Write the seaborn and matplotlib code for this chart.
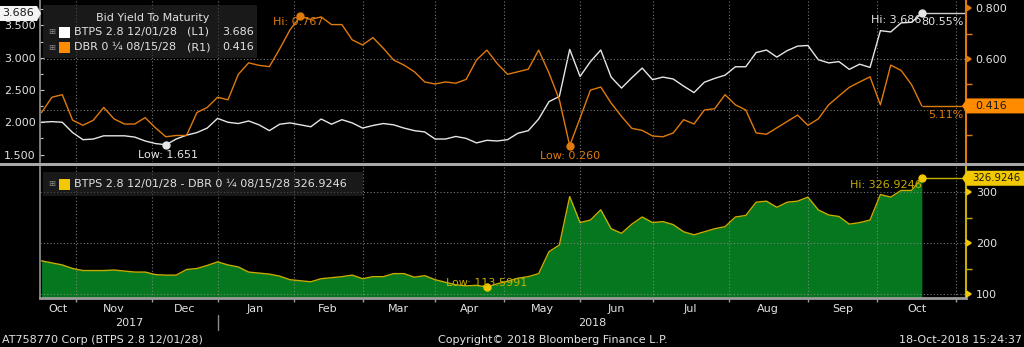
import numpy as np
import pandas as pd
import matplotlib
matplotlib.use("Agg")
import matplotlib.pyplot as plt
import matplotlib.transforms as mtrans
from matplotlib.patches import Rectangle, Polygon
import seaborn as sns

# ---------------------------------------------------------------- data
START, END = "2017-10-18", "2018-10-18"
HOLIDAYS = ["2017-12-25", "2017-12-26", "2018-01-01",
            "2018-03-30", "2018-04-02", "2018-05-01"]
STEP = 3  # one observation every third trading session

BTPS_NAME = "BTPS 2.8 12/01/28"
DBR_NAME = "DBR 0 \u00bc 08/15/28"
PANEL_TITLE = "Bid Yield To Maturity"

btps_yield = [
    2.00, 2.01, 2.00, 1.84, 1.73, 1.74, 1.79, 1.79, 1.79, 1.77,
    1.71, 1.67, 1.651, 1.74, 1.80, 1.84, 1.91, 2.06, 2.00, 1.98,
    2.02, 1.96, 1.87, 1.97, 1.99, 1.96, 1.93, 2.05, 1.97, 2.04,
    1.99, 1.91, 1.95, 1.98, 1.96, 1.91, 1.87, 1.85, 1.74, 1.74,
    1.78, 1.75, 1.68, 1.72, 1.71, 1.73, 1.83, 1.87, 2.05, 2.32,
    2.40, 3.13, 2.71, 2.94, 3.12, 2.70, 2.53, 2.69, 2.84, 2.66,
    2.70, 2.67, 2.56, 2.46, 2.62, 2.68, 2.73, 2.86, 2.86, 3.08,
    3.12, 3.01, 3.11, 3.18, 3.19, 2.97, 2.92, 2.94, 2.82, 2.90,
    2.85, 3.42, 3.40, 3.54, 3.55, 3.686,
]
dbr_yield = [
    0.39, 0.45, 0.46, 0.36, 0.34, 0.36, 0.41, 0.365, 0.345, 0.345,
    0.37, 0.33, 0.295, 0.30, 0.30, 0.39, 0.41, 0.45, 0.44, 0.54,
    0.585, 0.575, 0.57, 0.64, 0.715, 0.767, 0.755, 0.765, 0.735, 0.735,
    0.675, 0.655, 0.684, 0.642, 0.596, 0.576, 0.55, 0.51, 0.502, 0.51,
    0.505, 0.52, 0.596, 0.635, 0.582, 0.54, 0.55, 0.56, 0.635, 0.545,
    0.44, 0.260, 0.368, 0.478, 0.49, 0.427, 0.375, 0.328, 0.32, 0.298,
    0.295, 0.31, 0.362, 0.345, 0.40, 0.405, 0.46, 0.42, 0.40, 0.31,
    0.305, 0.33, 0.355, 0.38, 0.34, 0.365, 0.42, 0.455, 0.489, 0.51,
    0.53, 0.42, 0.576, 0.555, 0.50, 0.416,
]
spread_bp = [
    165, 161, 157, 150, 146, 146, 146, 147, 145, 143,
    143, 138, 137, 137, 148, 150, 156, 163, 157, 153,
    143, 141, 139, 135, 128, 126, 124, 130, 132, 134,
    137, 130, 134, 134, 140, 140, 133, 136, 128, 123,
    118, 116, 117, 113.5991, 120, 125, 131, 134, 140, 183,
    196, 291, 240, 245, 265, 228, 219, 237, 251, 240,
    242, 236, 222, 216, 222, 228, 232, 251, 254, 280,
    282, 270, 280, 282, 290, 265, 255, 252, 237, 240,
    245, 295, 290, 303, 303, 326.9246,
]

left_ticks = [1.5, 2.0, 2.5, 3.0, 3.5]
right_ticks = [0.4, 0.6, 0.8]
right_minor = [0.3, 0.5, 0.7]
right_grid = [0.4, 0.6]
spread_ticks = [100, 200, 300]
spread_minor = [150, 250]
btps_pctile = "80.55%"
dbr_pctile = "5.11%"

FOOT_LEFT = "AT758770 Corp (BTPS 2.8 12/01/28)"
FOOT_MID = "Copyright\u00a9 2018 Bloomberg Finance L.P."
FOOT_RIGHT = "18-Oct-2018 15:24:37"

# ---------------------------------------------------------------- frame
sessions = pd.bdate_range(START, END).drop(pd.to_datetime(HOLIDAYS))
ext = pd.bdate_range(START, "2018-11-05").drop(pd.to_datetime(HOLIDAYS))
pos = np.arange(len(sessions))[::STEP]
df = pd.DataFrame({"date": sessions[::STEP], "pos": pos,
                   "btps": btps_yield, "dbr": dbr_yield, "spread": spread_bp})

month_pos = [i for i in range(1, len(ext)) if ext[i].month != ext[i - 1].month]

# ---------------------------------------------------------------- style
sns.set_theme(style="dark", rc={
    "axes.facecolor": "black", "figure.facecolor": "black",
    "savefig.facecolor": "black", "axes.edgecolor": "#8c8c8c",
})
plt.rcParams["font.family"] = ["DejaVu Sans"]
FS = 8

TXT = "#e2e2e2"
WHITE = "#e6e6e6"
ORANGE = "#e07a0c"
ORANGE_TAG = "#ff8c00"
GREEN = "#05771e"
OLIVE = "#c4ae00"
YELLOW = "#f2c900"
GRID = "#8c8c8c"
AX_GRAY = "#9c9c9c"
DARK = "#1a1a1a"

W, H = 1024, 347
XLIM = (-0.45, 267.8)
YL = (1.384, 3.895)
YR = (0.196, 0.8314)
YB = (92.2, 349.0)


def fx(p):
    return p / W


def fy(p):
    return 1 - p / H


fig = plt.figure(figsize=(W / 100, H / 100), dpi=100, facecolor="black")
ax = fig.add_axes([fx(40), fy(162), 926 / W, 162 / H])
axr = ax.twinx()
axb = fig.add_axes([fx(40), fy(298), 926 / W, (298 - 167) / H])

# ---------------------------------------------------------------- series
sns.lineplot(data=df, x="pos", y="btps", ax=ax, color=WHITE, lw=1.0)
sns.lineplot(data=df, x="pos", y="dbr", ax=axr, color=ORANGE, lw=1.0)
axb.fill_between(df["pos"], df["spread"], YB[0], color=GREEN, lw=0, zorder=1)
sns.lineplot(data=df, x="pos", y="spread", ax=axb, color=OLIVE, lw=1.0, zorder=3)

for a in (ax, axr, axb):
    a.set_xlabel("")
    a.set_ylabel("")
    a.set_xlim(*XLIM)
ax.set_ylim(*YL)
axr.set_ylim(*YR)
axb.set_ylim(*YB)

last = df["pos"].iloc[-1]
b_last, d_last, s_last = btps_yield[-1], dbr_yield[-1], spread_bp[-1]
ax.hlines(b_last, last, XLIM[1], color="#cfcfcf", lw=1.0)
axr.hlines(d_last, last, XLIM[1], color=ORANGE, lw=1.0)
axb.hlines(s_last, last, XLIM[1], color=OLIVE, lw=1.0, zorder=3)

# ---------------------------------------------------------------- grid
for a in (ax, axb):
    a.set_xticks(month_pos)
    a.grid(axis="x", color=GRID, ls=(0, (1, 2)), lw=0.8, alpha=0.85)
ax.grid(axis="y", visible=False)
axr.grid(False)
for v in right_grid:
    axr.axhline(v, color=GRID, ls=(0, (1, 2)), lw=0.8, alpha=0.85, zorder=0.5)
axb.set_axisbelow(False)
axb.set_yticks(spread_ticks)
axb.grid(axis="y", color=GRID, ls=(0, (1, 2)), lw=0.8, alpha=0.85)

# ---------------------------------------------------------------- spines
for a in (ax, axr, axb):
    for s in a.spines.values():
        s.set_visible(False)
ax.spines["left"].set_visible(True)
ax.spines["left"].set_color("#8c8c8c")
axr.spines["right"].set_visible(True)
axr.spines["right"].set_color(ORANGE)
axr.spines["right"].set_linewidth(1.5)
axb.spines["left"].set_visible(True)
axb.spines["left"].set_color("#8c8c8c")
axb.spines["right"].set_visible(True)
axb.spines["right"].set_color(OLIVE)
axb.spines["right"].set_linewidth(1.5)
axb.spines["bottom"].set_visible(True)
axb.spines["bottom"].set_color(AX_GRAY)
axb.spines["bottom"].set_linewidth(2)

# ---------------------------------------------------------------- ticks
ax.tick_params(axis="x", length=0, labelbottom=False, bottom=False)
ax.set_yticks(left_ticks)
ax.set_yticklabels([f"{v:.3f}" for v in left_ticks])
ax.set_yticks(np.arange(1.5, 3.76, 0.25), minor=True)
ax.tick_params(axis="y", which="both", left=True, direction="in", length=3,
               width=0.8, color="#c8c8c8", labelsize=FS, labelcolor=TXT, pad=3)
ax.tick_params(axis="y", which="minor", length=2)

# the lowest right-hand label sits under the last-value tag
axr.set_yticks(right_ticks)
axr.set_yticklabels(["" if abs(v - d_last) < 0.05 else f"{v:.3f}" for v in right_ticks])
axr.set_yticks(right_minor, minor=True)
axr.tick_params(axis="y", which="major", right=True, length=4, color=ORANGE,
                labelsize=FS, labelcolor=TXT, pad=3)
axr.tick_params(axis="y", which="minor", right=True, length=4, width=1,
                color=ORANGE, direction="out")

axb.yaxis.tick_right()
axb.set_yticklabels([f"{v:d}" for v in spread_ticks])
axb.set_yticks(spread_minor, minor=True)
axb.tick_params(axis="y", which="major", right=True, left=False, length=4,
                color=OLIVE, labelsize=FS, labelcolor=TXT, pad=3)
axb.tick_params(axis="y", which="minor", right=True, left=False, length=4,
                width=1, color=OLIVE, direction="out")

# month labels centred between month boundaries
centers = [(XLIM[0] + month_pos[0]) / 2] + \
    [(month_pos[j - 1] + month_pos[j]) / 2 for j in range(1, len(month_pos))]
names = [ext[0].strftime("%b")] + [ext[month_pos[j - 1]].strftime("%b")
                                   for j in range(1, len(month_pos))]
axb.set_xticks(centers, minor=True)
axb.set_xticklabels(names, minor=True)
axb.tick_params(axis="x", which="major", length=3, width=1, color=AX_GRAY,
                labelbottom=False, bottom=True)
axb.tick_params(axis="x", which="minor", length=0, labelsize=FS,
                labelcolor=TXT, pad=4)

for t in axr.yaxis.get_major_ticks():
    t.tick2line.set_marker(9)
    t.tick2line.set_markersize(5)
    t.tick2line.set_markerfacecolor(ORANGE)
    t.tick2line.set_markeredgecolor(ORANGE)
for t in axb.yaxis.get_major_ticks():
    t.tick2line.set_marker(9)
    t.tick2line.set_markersize(5)
    t.tick2line.set_markerfacecolor(YELLOW)
    t.tick2line.set_markeredgecolor(YELLOW)

# year labels and divider
jan = [p for p in month_pos if ext[p].month == 1][0]
bt = mtrans.blended_transform_factory(axb.transData, fig.transFigure)
axb.text((XLIM[0] + jan) / 2, fy(323), str(ext[0].year), transform=bt,
         ha="center", va="center", color=TXT, fontsize=FS)
axb.text((jan + XLIM[1]) / 2, fy(323), str(ext[jan].year), transform=bt,
         ha="center", va="center", color=TXT, fontsize=FS)
axb.plot([jan, jan], [fy(315), fy(330)], transform=bt, color="#8c8c8c",
         lw=1, clip_on=False)

# ---------------------------------------------------------------- extremes
bt_arr, db_arr, sp_arr = map(np.asarray, (btps_yield, dbr_yield, spread_bp))
P = df["pos"].to_numpy()


def mark(a, i, vals, color, label, dx, dy, ha="center", tcolor=None):
    a.plot(P[i], vals[i], "o", ms=5, color=color, zorder=6, clip_on=False)
    a.annotate(label, (P[i], vals[i]), xytext=(dx, dy), textcoords="offset pixels",
               ha=ha, va="center", color=tcolor or color, fontsize=FS, zorder=6)


i = int(bt_arr.argmin())
mark(ax, i, bt_arr, WHITE, f"Low: {bt_arr[i]:.3f}", 2, -10)
i = int(bt_arr.argmax())
mark(ax, i, bt_arr, WHITE, f"Hi: {bt_arr[i]:.3f}", 0, -7, ha="right")
i = int(db_arr.argmax())
mark(axr, i, db_arr, ORANGE, f"Hi: {db_arr[i]:.3f}", -2, -6)
i = int(db_arr.argmin())
mark(axr, i, db_arr, ORANGE, f"Low: {db_arr[i]:.3f}", 0, -10)
i = int(sp_arr.argmin())
mark(axb, i, sp_arr, YELLOW, f"Low: {sp_arr[i]:.4f}", 0, 4, tcolor=OLIVE)
i = int(sp_arr.argmax())
mark(axb, i, sp_arr, YELLOW, f"Hi: {sp_arr[i]:.4f}", 0, -7, ha="right", tcolor=OLIVE)

ax.annotate(btps_pctile, (XLIM[1], b_last), xytext=(-2, -9), textcoords="offset pixels",
            ha="right", va="center", color=TXT, fontsize=FS)
axr.annotate(dbr_pctile, (XLIM[1], d_last), xytext=(-3, -9), textcoords="offset pixels",
             ha="right", va="center", color=ORANGE, fontsize=FS)

# ---------------------------------------------------------------- value tags


def ypix(a, v):
    return H - a.transData.transform((0, v))[1]


def tag(y, x0, x1, text, fc, point, tx, size=FS):
    h = 15
    if point == "left":
        pts = [(x0, y), (x0 + 5, y - h / 2), (x1, y - h / 2),
               (x1, y + h / 2), (x0 + 5, y + h / 2)]
    else:
        pts = [(x1, y), (x1 - 4, y - h / 2), (x0, y - h / 2),
               (x0, y + h / 2), (x1 - 4, y + h / 2)]
    fig.patches.append(Polygon([(fx(a), fy(b)) for a, b in pts], closed=True,
                               transform=fig.transFigure, fc=fc, ec="none",
                               zorder=5))
    fig.text(fx(tx), fy(y), text, ha="left", va="center", color=DARK,
             fontsize=size, zorder=6)


tag(ypix(ax, b_last), 0, 41, f"{b_last:.3f}", "#f4f4f4", "right", 2)
tag(ypix(axr, d_last), 962, 1024, f"{d_last:.3f}", ORANGE_TAG, "left", 975)
tag(ypix(axb, s_last), 962, 1024, f"{s_last:.4f}", YELLOW, "left", 972, size=7.3)

# ---------------------------------------------------------------- legends
LEG_BG = "#2a2a2a"
fig.patches.append(Rectangle((fx(43), fy(58)), 214 / W, 53 / H, transform=fig.transFigure,
                             fc=LEG_BG, ec="none", alpha=0.6, zorder=4))
fig.patches.append(Rectangle((fx(43), fy(196)), 320 / W, 24 / H, transform=fig.transFigure,
                             fc=LEG_BG, ec="none", alpha=0.6, zorder=4))
fig.text(fx(153), fy(18), PANEL_TITLE, ha="center", va="center", color=TXT,
         fontsize=FS, zorder=6)


def legend_row(y, color, parts):
    fig.text(fx(52), fy(y), "\u229e", ha="center", va="center", color="#8a8a8a",
             fontsize=6, zorder=6)
    fig.patches.append(Rectangle((fx(59), fy(y + 5.5)), 11 / W, 11 / H,
                                 transform=fig.transFigure, fc=color, ec="none",
                                 zorder=6))
    for xp, s in parts:
        fig.text(fx(xp), fy(y), s, ha="left", va="center", color=TXT,
                 fontsize=FS, zorder=6)


legend_row(32, "#ffffff", [(74, BTPS_NAME), (187, "(L1)"), (222, f"{b_last:.3f}")])
legend_row(47, ORANGE_TAG, [(74, DBR_NAME), (187, "(R1)"), (222, f"{d_last:.3f}")])
legend_row(184, YELLOW, [(74, f"{BTPS_NAME} - {DBR_NAME} {s_last:.4f}")])

# separator between the panels
fig.patches.append(Rectangle((0, fy(166)), 1, 3 / H, transform=fig.transFigure,
                             fc="#a8a8a8", ec="none", zorder=3))

# ---------------------------------------------------------------- footer
fig.text(fx(2), fy(340), FOOT_LEFT, ha="left", va="center", color=TXT, fontsize=FS)
fig.text(fx(553), fy(340), FOOT_MID, ha="center", va="center", color=TXT, fontsize=FS)
fig.text(fx(1022), fy(340), FOOT_RIGHT, ha="right", va="center", color=TXT, fontsize=FS)

fig.savefig("out.png", dpi=100, facecolor="black")
